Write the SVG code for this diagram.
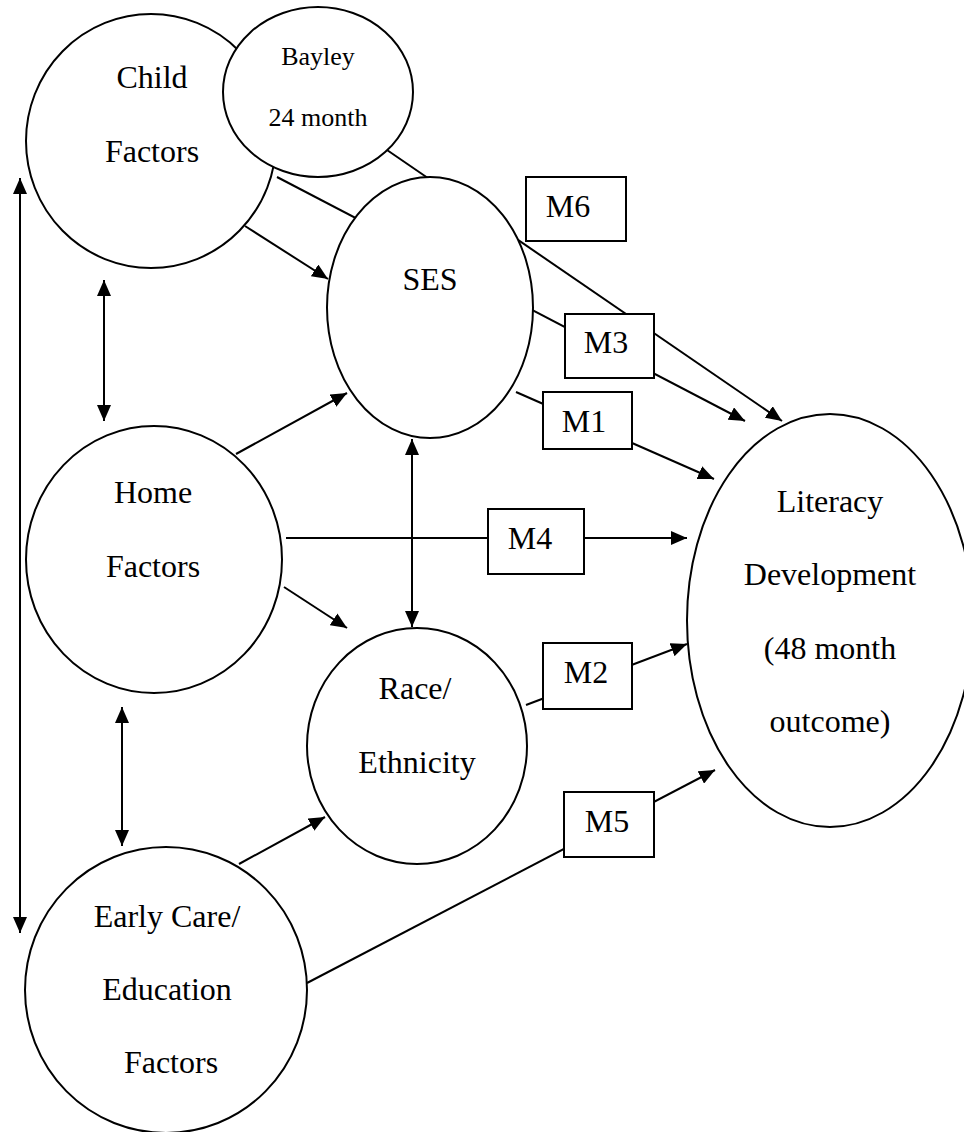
<svg xmlns="http://www.w3.org/2000/svg" width="964" height="1132" viewBox="0 0 964 1132">
<style>
.node{fill:#fff;stroke:#000;stroke-width:2}
.box{fill:#fff;stroke:#000;stroke-width:2}
.t{font-family:"Liberation Serif","Times New Roman",serif;font-size:32px;fill:#000;text-anchor:middle}
.ts{font-size:26px}
.c{stroke:#000;stroke-width:2;fill:none}
.a{marker-end:url(#ah)}
.d{marker-start:url(#ah);marker-end:url(#ah)}
</style>
<defs>
<marker id="ah" markerUnits="userSpaceOnUse" markerWidth="17" markerHeight="14" refX="16" refY="7" orient="auto-start-reverse">
<path d="M0,0 L16,7 L0,14 z" fill="#000"/>
</marker>
</defs>
<rect width="964" height="1132" fill="#fff"/>
<g id="connectors">
<line class="c a" x1="245" y1="226" x2="328" y2="279"/>
<line class="c a" x1="277" y1="177" x2="745" y2="421"/>
<line class="c a" x1="387" y1="150" x2="782" y2="421"/>
<line class="c a" x1="516" y1="392" x2="714" y2="479"/>
<line class="c a" x1="236" y1="454" x2="347" y2="393"/>
<line class="c a" x1="286" y1="538" x2="687" y2="538"/>
<line class="c a" x1="284" y1="587" x2="347" y2="628"/>
<line class="c d" x1="412" y1="439" x2="412" y2="627"/>
<line class="c a" x1="526" y1="705" x2="687" y2="644"/>
<line class="c a" x1="239" y1="864" x2="325" y2="817"/>
<line class="c a" x1="307" y1="983" x2="715" y2="770"/>
<line class="c d" x1="104" y1="280" x2="104" y2="421"/>
<line class="c d" x1="122" y1="707" x2="122" y2="846"/>
<line class="c d" x1="20" y1="178" x2="20" y2="933"/>
</g>
<g id="child">
<ellipse class="node" cx="151" cy="141" rx="125" ry="127"/>
<text class="t" x="152" y="88">Child</text>
<text class="t" x="152" y="162">Factors</text>
</g>
<g id="bayley">
<ellipse class="node" cx="318" cy="92" rx="95" ry="85"/>
<text class="t ts" x="318" y="65">Bayley</text>
<text class="t ts" x="318" y="126">24 month</text>
</g>
<g id="ses">
<ellipse class="node" cx="430" cy="307.5" rx="103" ry="130.5"/>
<text class="t" x="430" y="290">SES</text>
</g>
<g id="home">
<ellipse class="node" cx="154" cy="559.5" rx="128" ry="133.5"/>
<text class="t" x="153" y="503">Home</text>
<text class="t" x="153" y="577">Factors</text>
</g>
<g id="race">
<ellipse class="node" cx="417" cy="746" rx="110" ry="118"/>
<text class="t" x="415" y="699">Race/</text>
<text class="t" x="417" y="773">Ethnicity</text>
</g>
<g id="early">
<ellipse class="node" cx="166" cy="990" rx="141" ry="143"/>
<text class="t" x="167" y="927">Early Care/</text>
<text class="t" x="167" y="1000">Education</text>
<text class="t" x="171" y="1073">Factors</text>
</g>
<g id="literacy">
<ellipse class="node" cx="830" cy="620.5" rx="143" ry="206.5"/>
<text class="t" x="830" y="512">Literacy</text>
<text class="t" x="830" y="585">Development</text>
<text class="t" x="830" y="659">(48 month</text>
<text class="t" x="830" y="732">outcome)</text>
</g>
<g id="m6">
<rect class="box" x="526" y="177" width="100" height="64"/>
<text class="t" x="568" y="217">M6</text>
</g>
<g id="m3">
<rect class="box" x="565" y="314" width="89" height="64"/>
<text class="t" x="606" y="353">M3</text>
</g>
<g id="m1">
<rect class="box" x="543" y="392" width="89" height="57"/>
<text class="t" x="584" y="432">M1</text>
</g>
<g id="m4">
<rect class="box" x="488" y="509" width="96" height="65"/>
<text class="t" x="530" y="549">M4</text>
</g>
<g id="m2">
<rect class="box" x="543" y="643" width="89" height="66"/>
<text class="t" x="586" y="683">M2</text>
</g>
<g id="m5">
<rect class="box" x="564" y="792" width="90" height="65"/>
<text class="t" x="607" y="832">M5</text>
</g>
</svg>
